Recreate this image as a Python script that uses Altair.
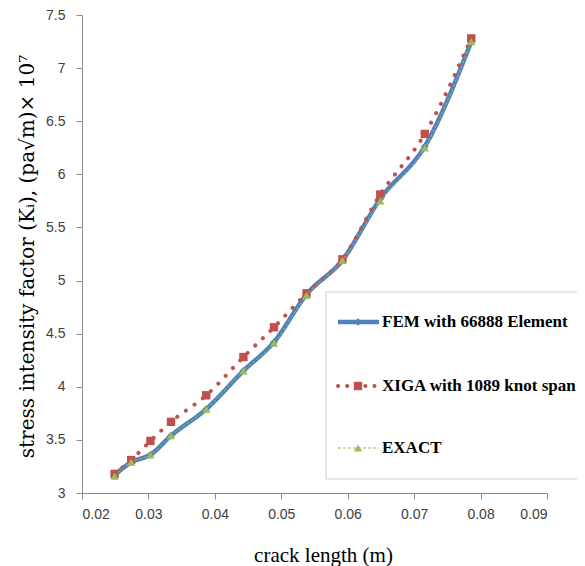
import altair as alt
import pandas as pd

# ---- data ----
crack_length = [0.0249, 0.0274, 0.0303, 0.0334, 0.0387, 0.0443, 0.0489, 0.0538, 0.0592, 0.0649, 0.0716, 0.0786]
fem_66888 = [3.17, 3.29, 3.36, 3.54, 3.79, 4.15, 4.42, 4.87, 5.19, 5.77, 6.26, 7.25]
xiga_1089 = [3.18, 3.31, 3.49, 3.67, 3.92, 4.28, 4.56, 4.88, 5.20, 5.81, 6.38, 7.28]
exact = [3.16, 3.29, 3.36, 3.54, 3.79, 4.15, 4.41, 4.86, 5.19, 5.75, 6.25, 7.25]

x_ticks = [0.02, 0.03, 0.04, 0.05, 0.06, 0.07, 0.08, 0.09]
y_ticks = [3, 3.5, 4, 4.5, 5, 5.5, 6, 6.5, 7, 7.5]

legend_labels = ["FEM with 66888 Element", "XIGA with 1089 knot span", "EXACT"]

x_title = "crack length (m)"
y_title = "stress intensity factor (K\u1d62), (pa\u221am)\u00d7 10\u2077"

BLUE = "#4f81bd"
RED = "#c0504d"
GREEN = "#9bbb59"

df = pd.DataFrame({"x": crack_length, "fem": fem_66888, "xiga": xiga_1089, "exact": exact})

W, H = 465, 478

xs = alt.Scale(domain=[0.02, 0.09], nice=False, zero=False)
ys = alt.Scale(domain=[3, 7.5], nice=False, zero=False)

x_axis = alt.Axis(values=x_ticks, format=".2f", title=x_title, grid=False,
                  titleX=241, titleY=62, titleBaseline="middle", titleAlign="center",
                  titleFont="Liberation Serif", titleFontSize=21)
y_axis = alt.Axis(values=y_ticks, format="~g", title=y_title, grid=False,
                  titleX=-55, titleY=241, titleBaseline="middle", titleAlign="center",
                  titleAngle=270, titleFont="DejaVu Serif", titleFontSize=20)

base = alt.Chart(df)


def series_line(field, color, width, dash=None, cap="butt"):
    kw = dict(color=color, strokeWidth=width, interpolate="monotone", strokeCap=cap)
    if dash:
        kw["strokeDash"] = dash
    return base.mark_line(**kw).encode(
        x=alt.X("x:Q", scale=xs, axis=x_axis),
        y=alt.Y(f"{field}:Q", scale=ys, axis=y_axis),
    )


def series_points(field, color, shape, size):
    return base.mark_point(filled=True, shape=shape, size=size, color=color, opacity=1).encode(
        x=alt.X("x:Q", scale=xs, axis=x_axis),
        y=alt.Y(f"{field}:Q", scale=ys, axis=y_axis),
    )


layers = [
    series_line("fem", BLUE, 4.5, cap="round"),
    series_points("fem", BLUE, "diamond", 60),
    series_line("xiga", RED, 4, dash=[0.1, 10.5], cap="round"),
    series_points("xiga", RED, "square", 70),
    series_line("exact", GREEN, 1, dash=[3, 2]),
    series_points("exact", GREEN, "triangle-up", 70),
]

# ---- legend box (drawn manually to mimic line+marker symbols) ----
dummy = alt.Chart(pd.DataFrame({"a": [0]}))
layers.append(
    dummy.mark_rect(fill="white", stroke="#c5d0e4", strokeWidth=1).encode(
        x=alt.value(244), x2=alt.value(520), y=alt.value(277), y2=alt.value(464)
    )
)

rows = [307, 371, 433]
line_styles = [
    dict(color=BLUE, strokeWidth=4.5, strokeCap="butt"),
    dict(color=RED, strokeWidth=4, strokeDash=[0.1, 9], strokeCap="round"),
    dict(color=GREEN, strokeWidth=1, strokeDash=[3, 2]),
]
markers = [("diamond", BLUE, 60), ("square", RED, 70), ("triangle-up", GREEN, 70)]
for ry, lab, ls, (shp, col, sz) in zip(rows, legend_labels, line_styles, markers):
    layers.append(dummy.mark_rule(**ls).encode(x=alt.value(256), x2=alt.value(297), y=alt.value(ry)))
    layers.append(dummy.mark_point(filled=True, shape=shp, size=sz, color=col, opacity=1).encode(
        x=alt.value(276), y=alt.value(ry)))
    layers.append(dummy.mark_text(align="left", baseline="middle", font="Liberation Serif",
                                  fontWeight="bold", fontSize=17, color="black").encode(
        x=alt.value(300), y=alt.value(ry), text=alt.value(lab)))

chart = alt.layer(*layers).properties(
    width=W, height=H,
    padding={"left": 74, "top": 7, "right": 30, "bottom": 73},
    autosize=alt.AutoSizeParams(type="none"),
).configure_view(stroke=None).configure_axis(
    domainColor="#8c8c8c", tickColor="#8c8c8c", tickSize=6, domainWidth=1, tickWidth=1,
    labelFont="Liberation Sans", labelFontSize=14, labelColor="#404040",
    titleFontWeight="normal", titleColor="black",
).configure_axisY(labelPadding=11).configure_axisX(labelPadding=8)

chart.save("out.html", embed_options={"renderer": "svg", "actions": False})
